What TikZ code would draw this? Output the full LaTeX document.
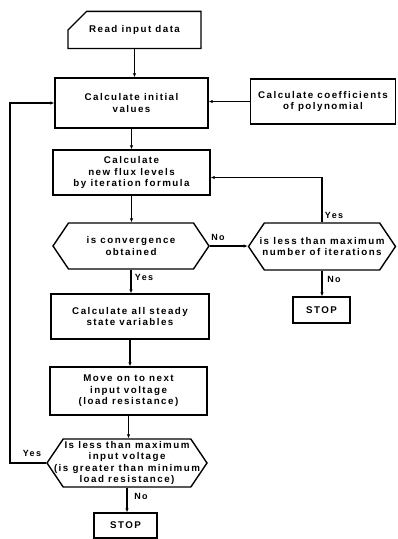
\documentclass[tikz,border=0pt]{standalone}
\usepackage{fontspec}
\setmainfont{Liberation Sans}[LetterSpace=15]
\usetikzlibrary{arrows.meta,shapes.misc,shapes.symbols}
\tikzset{
  txt/.style={font=\fontsize{9.8}{11.5}\selectfont\bfseries, align=center},
  box/.style={txt, draw, line width=1.4bp, rectangle, inner sep=0pt},
  card/.style={txt, draw, line width=1.4bp, chamfered rectangle, chamfered rectangle corners=north west, chamfered rectangle xsep=13bp, chamfered rectangle ysep=14bp, inner sep=0pt},
  hexa/.style={txt, draw, line width=1.4bp, signal, signal to=west and east, signal pointer angle=112, inner ysep=0pt, inner xsep=-14bp},
  conn/.style={line width=1.1bp, -{Latex[length=4bp,width=3.5bp]}},
  lbl/.style={font=\fontsize{9}{10}\selectfont\bfseries, inner sep=0pt}
}
\begin{document}
\begin{tikzpicture}[x=1bp,y=-1bp]
\useasboundingbox[fill=white] (0,0) rectangle (397,539);
\node[card, minimum width=133bp, minimum height=36bp] (read) at (134.5,30) {Read input data};
\node[box, minimum width=153bp, minimum height=50bp] (init) at (131.5,103) {Calculate initial\\values};
\node[box, minimum width=145bp, minimum height=45bp] (coef) at (323,101.5) {Calculate coefficients\\of polynomial};
\node[box, minimum width=157bp, minimum height=45bp] (flux) at (131.5,172.5) {Calculate\\new flux levels\\by iteration formula};
\node[hexa, minimum width=156bp, minimum height=46bp] (conv) at (131,246) {is convergence\\obtained};
\node[hexa, minimum width=147bp, minimum height=47bp] (iter) at (322,246.5) {is less than maximum\\number of iterations};
\node[box, minimum width=57bp, minimum height=26bp] (stopb) at (321.5,310) {STOP};
\node[box, minimum width=158bp, minimum height=45bp] (steady) at (130,316.5) {Calculate all steady\\state variables};
\node[box, minimum width=157bp, minimum height=48bp] (move) at (128.5,391) {Move on to next\\input voltage\\(load resistance)};
\node[hexa, minimum width=160bp, minimum height=48bp] (cond) at (127,463) {Is less than maximum\\input voltage\\(is greater than minimum\\load resistance)};
\node[box, minimum width=63bp, minimum height=25bp] (stopa) at (125.5,525.5) {STOP};

\coordinate (lft) at (10,460);

\draw[conn] (read.south) -- (read.south |- init.north);
\draw[conn] (coef.west) -- (coef.west -| init.east);
\draw[conn] (init.south) -- (init.south |- flux.north);
\draw[conn] (flux.south) -- (flux.south |- conv.north);
\draw[conn] (conv.east) -- (conv.east -| iter.west);
\draw[conn] (iter.north) |- ([yshift=-5bp]flux.east);
\draw[conn] (iter.south) -- (iter.south |- stopb.north);
\draw[conn] (conv.south) -- (conv.south |- steady.north);
\draw[conn] (steady.south) -- (steady.south |- move.north);
\draw[conn] (move.south) -- (move.south |- cond.north);
\draw[conn] (cond.south) -- (cond.south |- stopa.north);
\draw[conn] (cond.west) -- (cond.west -| lft) |- (init.west);

\node[lbl] (l1) at (218,237) {No};
\node[lbl] (l2) at (334,215) {Yes};
\node[lbl] (l3) at (334,279) {No};
\node[lbl] (l4) at (144,277) {Yes};
\node[lbl] (l5) at (32,453) {Yes};
\node[lbl] (l6) at (141,496) {No};
\end{tikzpicture}
\end{document}
